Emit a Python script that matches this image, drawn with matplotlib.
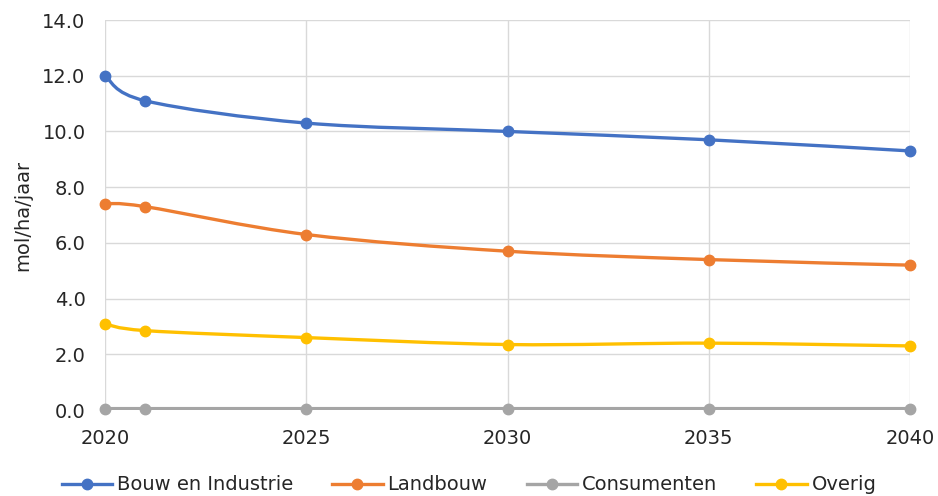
import numpy as np
import matplotlib
matplotlib.use("Agg")
import matplotlib.pyplot as plt
from matplotlib.path import Path
from matplotlib.patches import PathPatch
from matplotlib.lines import Line2D

years = [2020, 2021, 2025, 2030, 2035, 2040]
bouw = [12.0, 11.1, 10.3, 10.0, 9.7, 9.3]
landbouw = [7.4, 7.3, 6.3, 5.7, 5.4, 5.2]
consumenten = [0.05, 0.05, 0.05, 0.05, 0.05, 0.05]
overig = [3.1, 2.85, 2.6, 2.35, 2.4, 2.3]

series = [
    ("Bouw en Industrie", bouw, "#4472C4"),
    ("Landbouw", landbouw, "#ED7D31"),
    ("Consumenten", consumenten, "#A5A5A5"),
    ("Overig", overig, "#FFC000"),
]

plt.rcParams["font.family"] = ["DejaVu Sans"]


def smooth_path(xs, ys):
    """Bezier path through the points, with spreadsheet-style smoothing."""
    pts = np.column_stack([xs, ys]).astype(float)
    n = len(pts)
    verts = [pts[0]]
    codes = [Path.MOVETO]
    for i in range(n - 1):
        p0 = pts[i - 1] if i > 0 else pts[i]
        p1 = pts[i]
        p2 = pts[i + 1]
        p3 = pts[i + 2] if i + 2 < n else pts[i + 1]
        c1 = p1 + (p2 - p0) / 6.0
        c2 = p2 - (p3 - p1) / 6.0
        verts += [c1, c2, p2]
        codes += [Path.CURVE4] * 3
    return Path(verts, codes)


fig = plt.figure(figsize=(9.38, 4.96), dpi=100)
ax = fig.add_axes([105 / 938, 1 - 410 / 496, 805 / 938, 390 / 496])

lw = 2.4
handles = []
for name, vals, color in series:
    patch = PathPatch(smooth_path(years, vals), facecolor="none",
                      edgecolor=color, lw=lw, zorder=3, capstyle="round")
    ax.add_patch(patch)
    ax.plot(years, vals, linestyle="none", marker="o", markersize=7.5,
            color=color, zorder=4, clip_on=False)
    handles.append(Line2D([], [], color=color, lw=lw, marker="o",
                          markersize=7.5, label=name))

ax.set_xlim(2020, 2040)
ax.set_ylim(0, 14)
ax.set_xticks(range(2020, 2041, 5))
ax.set_yticks(np.arange(0, 14.1, 2))
ax.set_yticklabels([f"{v:.1f}" for v in np.arange(0, 14.1, 2)])
ax.grid(True, color="#D9D9D9", lw=1.0, zorder=0)
ax.set_axisbelow(True)
for s in ax.spines.values():
    s.set_visible(False)
ax.tick_params(axis="y", length=0, labelsize=14, colors="#262626", pad=14)
ax.tick_params(axis="x", length=0, labelsize=14, colors="#262626", pad=14)
ax.set_ylabel("mol/ha/jaar", fontsize=14, color="#262626", labelpad=7)

fig.legend(handles=handles, loc="center", bbox_to_anchor=(0.5, 1 - 485 / 496),
           ncol=4, frameon=False, fontsize=14, handlelength=2.6,
           handletextpad=0.25, columnspacing=2.0, labelcolor="#262626")

fig.savefig("out.png", dpi=100)
